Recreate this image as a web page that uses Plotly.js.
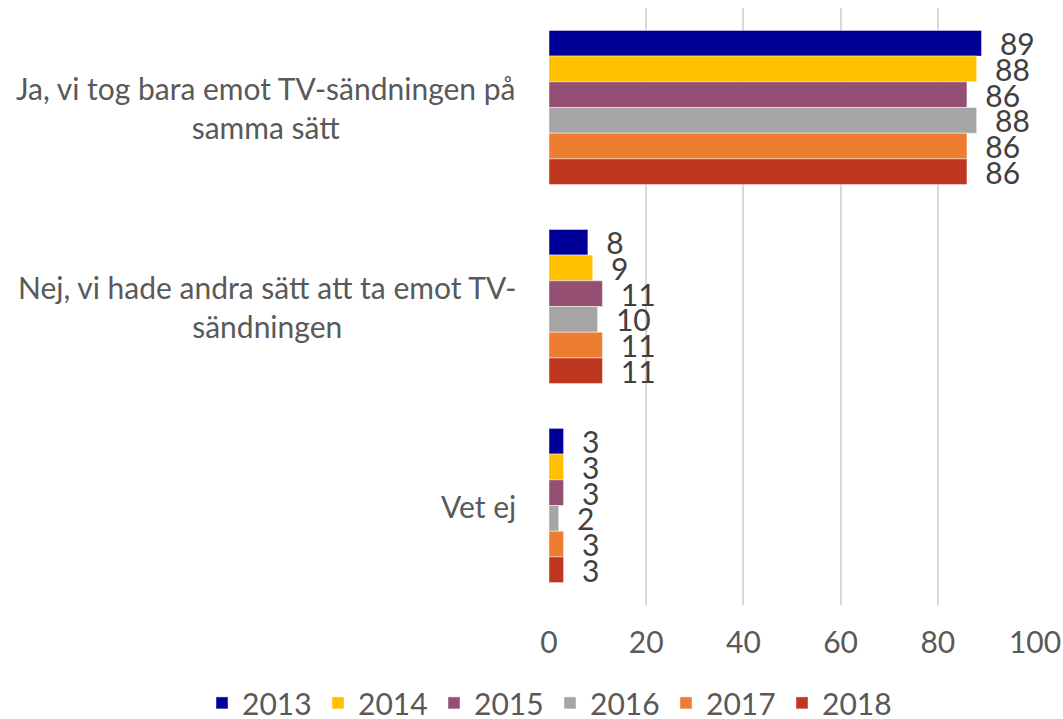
<!DOCTYPE html>
<html>
<head>
<meta charset="utf-8">
<script src="https://cdn.plot.ly/plotly-3.0.1.min.js"></script>
<style>
  html, body { margin: 0; padding: 0; background: #fff; }
  #chart { width: 1063px; height: 719px; }
</style>
</head>
<body>
<div id="chart"></div>
<script>
// ===== data =====
const categories = [
  "Ja, vi tog bara emot TV-sändningen på<br>samma sätt",
  "Nej, vi hade andra sätt att ta emot TV-<br>sändningen",
  "Vet ej"
];
const years = ["2013", "2014", "2015", "2016", "2017", "2018"];
const v2013 = [89, 8, 3];
const v2014 = [88, 9, 3];
const v2015 = [86, 11, 3];
const v2016 = [88, 10, 2];
const v2017 = [86, 11, 3];
const v2018 = [86, 11, 3];
const xTicks = [0, 20, 40, 60, 80, 100];

const series = [v2013, v2014, v2015, v2016, v2017, v2018];
const colors = ["#000099", "#FFC000", "#954F72", "#A5A5A5", "#ED7D31", "#BE3520"];

const FONT = "Lato, 'Open Sans', sans-serif";
const FS = 30;

// ===== traces =====
const traces = series.map((vals, i) => ({
  type: "bar",
  orientation: "h",
  name: years[i],
  x: vals,
  y: categories,
  marker: { color: colors[i], line: { width: 1, color: "rgba(255,255,255,0.45)" } },
  text: vals.map(v => "\u00a0\u00a0" + v),
  textposition: "outside",
  constraintext: "none",
  cliponaxis: false,
  textfont: { family: FONT, size: FS, color: "#404040" },
  hoverinfo: "x+name"
}));

// категории — аннотациями, чтобы строки были по центру как в Excel
const catAnnotations = categories.map(c => ({
  xref: "paper", yref: "y",
  x: 0, y: c,
  xanchor: "right", yanchor: "middle",
  xshift: -31,
  align: "center",
  showarrow: false,
  text: c,
  font: { family: FONT, size: FS, color: "#595959" }
}));

const layout = {
  width: 1063,
  height: 719,
  paper_bgcolor: "#fff",
  plot_bgcolor: "#fff",
  // autoexpand off: легенда ниже графика не должна сдвигать поля
  margin: { l: 549, r: 28, t: 8, b: 114, autoexpand: false },
  barmode: "group",
  bargap: 0.225,
  bargroupgap: 0,
  showlegend: true,
  font: { family: FONT, color: "#595959" },
  xaxis: {
    range: [0, 100],
    tickvals: xTicks,
    ticktext: xTicks.map(String),
    showgrid: true,
    gridcolor: "#D9D9D9",
    gridwidth: 1.5,
    zeroline: false,
    showline: false,
    ticks: "",
    ticklabelstandoff: 17,
    tickfont: { family: FONT, size: FS, color: "#595959" },
    fixedrange: true
  },
  yaxis: {
    type: "category",
    autorange: "reversed",
    showticklabels: false,
    showgrid: false,
    zeroline: false,
    showline: false,
    ticks: "",
    fixedrange: true
  },
  legend: {
    orientation: "h",
    xref: "paper", yref: "paper",
    x: -0.714, y: -0.164,
    xanchor: "left", yanchor: "middle",
    traceorder: "normal",
    font: { family: FONT, size: FS, color: "#595959" },
    itemwidth: 30,
    entrywidth: 71
  },
  annotations: catAnnotations
};

Plotly.newPlot("chart", traces, layout, { displayModeBar: false, responsive: false });
</script>
</body>
</html>
